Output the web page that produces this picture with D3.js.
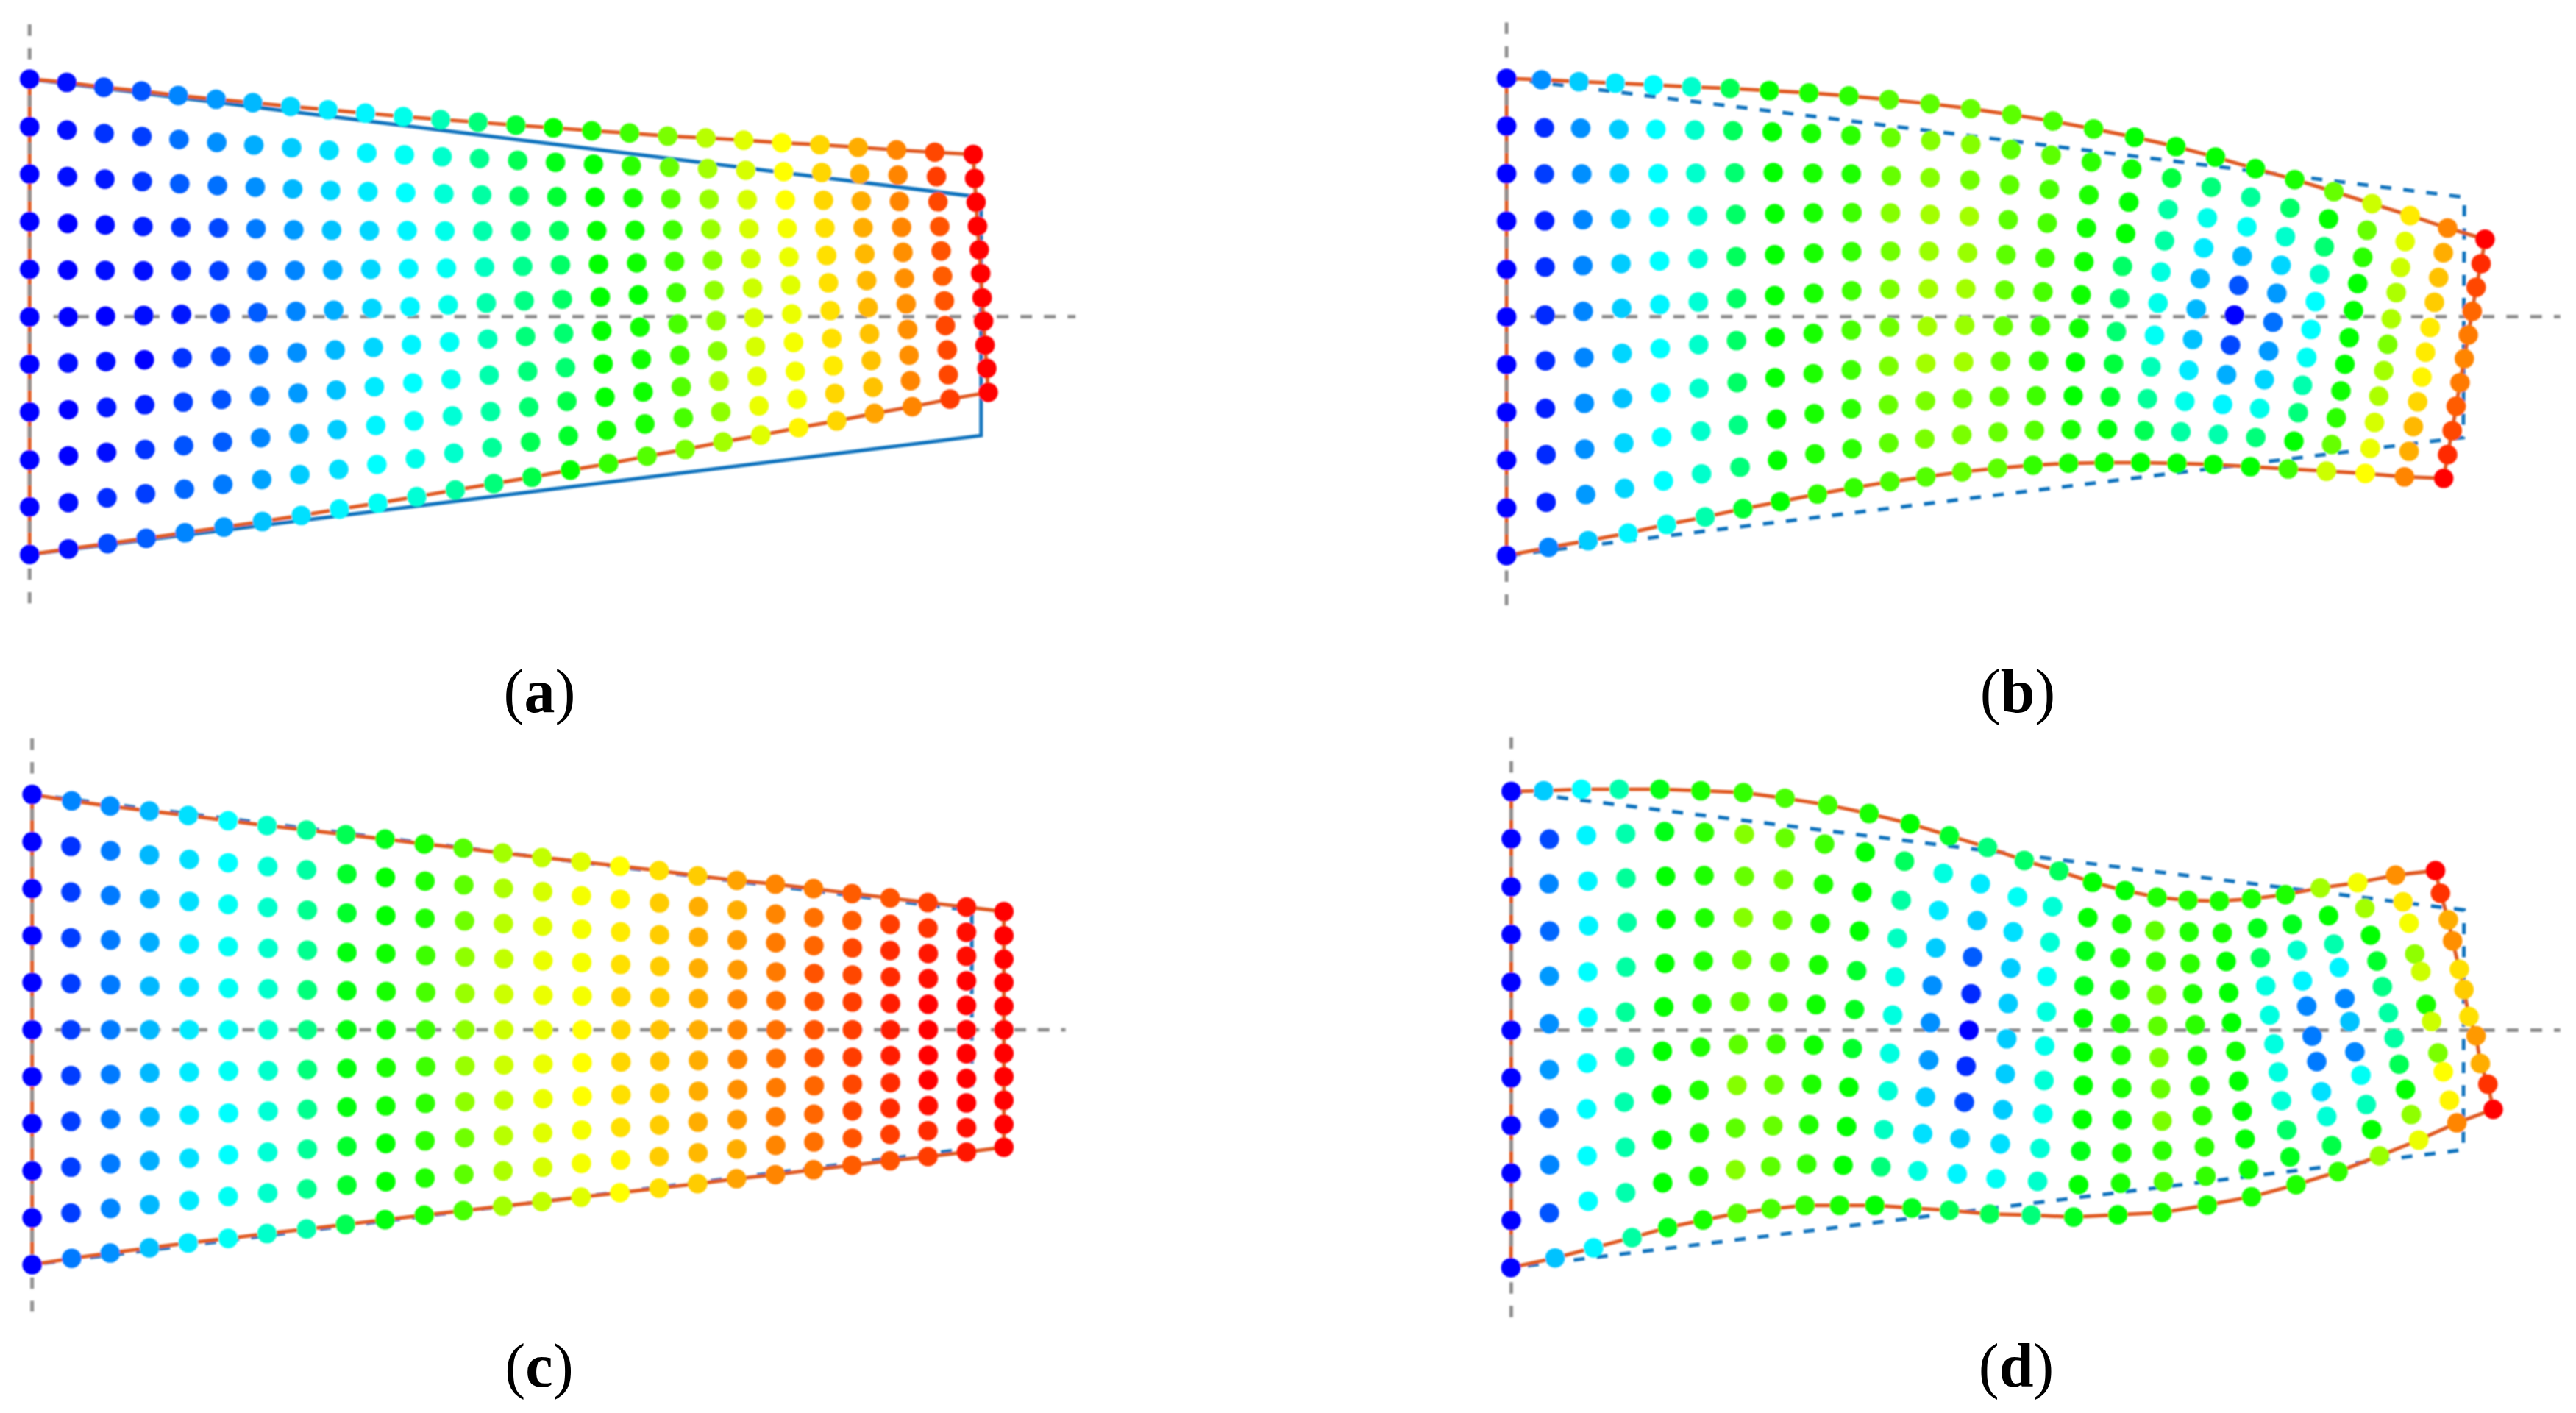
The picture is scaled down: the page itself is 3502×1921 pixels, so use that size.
<!DOCTYPE html>
<html><head><meta charset="utf-8">
<script src="https://cdnjs.cloudflare.com/ajax/libs/d3/7.8.5/d3.min.js"></script>
<style>html,body{margin:0;padding:0;background:#fff}svg{display:block}</style></head>
<body><svg id="chart" width="3502" height="1921"></svg>
<script>
// Values. Each array is [column][row]; x and y are in crop units (0-1568),
// v is the field value (0 = lowest/blue, 100 = highest/red).
const aLeftX=[[83,83,83,83,83,83,83,83,83,83,83],[187,188,189,190,190,191,191,192,192,192,192],[291,292,294,295,295,296,297,299,299,300,302],[397,398,399,401,402,403,405,406,407,408,410],[500,502,504,507,508,509,511,514,515,517,519],[606,608,610,613,614,617,619,621,624,625,628],[709,712,716,718,721,723,726,729,731,734,736],[815,818,821,824,827,830,833,836,839,841,845],[920,923,927,930,933,936,940,943,946,950,952],[1025,1029,1032,1036,1040,1043,1047,1050,1054,1057,1060],[1131,1134,1138,1142,1146,1150,1154,1158,1161,1165,1169],[1236,1240,1245,1248,1252,1257,1261,1265,1269,1273,1277],[1341,1345,1351,1354,1359,1364,1368,1372,1376,1380,1385],[1447,1452,1456,1461,1466,1470,1474,1480,1483,1488,1492],[1552,1558,1562,1568,1572,1577,1581,1586,1590,1594,1600]];
const aLeftY=[[93,220,346,473,600,727,853,980,1108,1233,1360],[102,229,353,478,602,727,850,974,1097,1222,1345],[115,238,360,482,603,725,846,968,1088,1209,1331],[125,246,366,486,604,723,841,961,1080,1198,1317],[137,254,372,488,604,720,836,954,1070,1186,1302],[147,262,377,490,604,718,832,947,1060,1173,1287],[156,269,381,492,604,715,828,938,1049,1160,1272],[166,276,386,495,603,712,822,930,1038,1147,1256],[175,283,390,496,602,709,815,922,1027,1133,1239],[184,290,393,497,600,704,808,913,1016,1120,1223],[193,295,396,497,598,700,801,903,1004,1105,1206],[201,300,399,498,597,695,794,893,991,1090,1188],[208,305,402,498,594,690,786,882,979,1075,1171],[216,310,405,498,592,684,779,872,967,1060,1154],[223,315,407,497,588,680,771,862,952,1044,1135]];
const aLeftV=[[0,0,0,0,0,0,0,0,0,0,0],[1,1,1,0,0,0,1,0,0,1,1],[7,5,2,1,1,0,1,2,1,4,7],[8,6,5,3,1,1,0,3,5,6,9],[13,11,9,5,4,2,5,6,8,10,13],[15,14,11,7,6,6,7,8,9,12,15],[18,17,14,12,10,9,11,12,13,16,19],[21,20,18,15,13,13,14,15,17,20,22],[23,22,21,19,17,17,18,19,20,22,24],[24,24,23,21,21,21,21,23,24,25,26],[27,26,25,24,24,24,24,25,26,27,29],[32,30,29,27,26,27,26,27,29,30,34],[38,36,34,33,31,33,32,33,34,35,38],[45,42,40,38,36,37,38,38,39,42,43],[50,48,45,41,40,40,39,39,43,46,50]];
const aRightX=[[133,138,142,147,152,157,161,165,170,175,180],[239,244,249,254,259,264,268,272,277,282,288],[346,351,355,360,365,370,375,380,384,390,395],[453,458,462,467,472,476,482,486,490,495,501],[559,565,569,574,579,584,588,592,597,602,607],[666,671,676,681,686,691,694,699,704,709,713],[773,778,783,787,792,797,802,806,810,815,820],[880,885,889,894,899,904,908,912,917,922,926],[988,992,996,1002,1006,1010,1015,1019,1023,1027,1032],[1095,1100,1104,1109,1113,1117,1122,1125,1130,1133,1138],[1203,1207,1211,1215,1220,1224,1228,1232,1236,1241,1245]];
const aRightY=[[231,320,408,497,586,674,764,852,941,1029,1118],[237,324,410,496,583,668,754,840,927,1012,1098],[245,328,412,495,579,662,746,829,913,996,1080],[250,332,413,493,576,656,737,818,898,980,1060],[256,336,414,492,572,650,729,806,885,964,1042],[263,340,415,491,567,642,719,795,872,946,1022],[268,342,416,490,563,636,710,784,857,931,1004],[275,346,418,489,559,630,702,772,843,914,984],[282,349,419,488,555,624,692,760,829,897,966],[288,353,420,486,551,618,684,750,815,881,946],[294,358,421,485,548,611,676,738,802,864,928]];
const aRightV=[[52,50,50,50,50,50,50,50,50,51,55],[56,54,52,51,51,50,51,51,51,52,58],[62,60,58,56,56,56,57,56,58,57,62],[68,66,65,65,63,64,64,63,67,64,66],[72,71,71,71,70,70,71,71,72,73,72],[75,75,75,74,73,72,73,74,74,74,76],[79,79,79,78,78,78,78,78,77,79,79],[83,83,83,83,82,82,82,81,81,81,84],[87,87,87,87,86,86,86,86,86,87,87],[93,94,93,92,92,91,92,93,93,93,94],[100,100,100,100,100,100,100,100,100,100,100]];

const bLeftX=[[58,58,58,58,58,58,58,58,58,58,58],[156,164,164,165,166,166,167,167,169,169,176],[261,266,269,272,272,273,275,276,277,280,287],[363,373,375,378,379,381,382,383,387,389,399],[470,477,483,486,487,488,489,490,493,498,507],[577,586,589,594,595,596,597,598,603,605,615],[685,693,698,701,702,703,703,705,708,713,721],[795,803,806,810,810,810,811,811,815,818,826],[906,913,917,918,919,919,918,918,921,923,930],[1018,1024,1025,1027,1026,1026,1025,1025,1025,1027,1032],[1131,1136,1137,1135,1135,1133,1132,1130,1129,1130,1133],[1246,1248,1246,1246,1243,1241,1238,1234,1233,1231,1234],[1360,1360,1358,1356,1351,1346,1343,1340,1337,1335,1335],[1475,1473,1469,1465,1459,1455,1451,1444,1440,1437,1435]];
const bLeftY=[[91,218,345,472,600,727,854,981,1109,1236,1363],[95,223,346,471,594,722,844,971,1094,1221,1341],[100,224,346,468,590,712,835,957,1079,1200,1323],[104,227,345,466,585,704,824,944,1063,1184,1303],[109,227,345,461,578,694,811,929,1047,1164,1280],[114,229,344,458,572,687,801,917,1031,1145,1260],[118,231,343,454,566,678,790,902,1015,1127,1238],[124,234,342,452,561,670,781,889,999,1109,1219],[130,238,344,450,557,664,771,878,985,1092,1199],[138,243,346,449,553,657,762,868,972,1078,1182],[148,249,351,450,552,653,754,858,961,1063,1166],[159,257,356,454,552,652,752,851,951,1052,1153],[172,267,362,459,556,652,749,847,945,1041,1140],[188,281,375,468,561,655,751,845,939,1034,1130]];
const bLeftV=[[0,0,0,0,0,0,0,0,0,0,0],[14,4,6,3,4,4,4,3,4,3,13],[20,14,14,13,13,13,13,14,14,15,20],[23,20,20,20,20,20,21,19,21,21,24],[25,25,25,25,25,24,25,25,25,25,27],[30,30,30,29,29,29,30,30,30,30,33],[42,41,39,40,41,40,40,40,37,38,45],[50,50,50,50,50,50,50,50,50,50,50],[52,52,52,52,52,52,52,53,52,53,54],[54,54,53,56,55,56,57,56,54,54,55],[58,60,60,63,61,62,61,62,60,59,57],[59,63,63,66,65,66,66,66,62,62,58],[60,63,61,66,65,66,65,66,61,62,60],[59,59,59,59,59,60,60,60,59,60,59]];
const bRightX=[[105,100,95,89,83,77,70,65,58,53,49],[219,213,206,199,192,184,178,168,162,156,149],[334,326,318,309,300,292,283,275,266,258,249],[450,438,428,418,408,400,390,380,370,361,351],[561,549,538,528,518,507,497,486,475,464,453],[673,660,649,636,626,614,603,592,581,569,555],[783,770,757,745,733,722,710,698,685,674,659],[893,878,866,853,841,829,817,805,793,781,765],[1000,986,974,960,948,936,924,913,900,887,872],[1107,1093,1080,1068,1054,1044,1033,1019,1007,995,981],[1212,1200,1187,1175,1163,1150,1140,1128,1116,1104,1091],[1317,1306,1292,1281,1270,1259,1247,1236,1225,1212,1201]];
const bRightY=[[205,296,387,477,570,660,751,844,937,1029,1122],[226,314,402,490,580,668,757,848,937,1027,1117],[248,333,421,505,592,678,766,852,940,1026,1115],[273,357,440,524,607,690,776,860,945,1030,1115],[301,381,463,543,625,706,787,869,952,1033,1117],[332,408,487,565,643,722,802,881,960,1040,1120],[361,437,513,589,664,741,818,894,971,1048,1126],[393,466,540,613,686,760,835,909,982,1058,1132],[425,496,568,638,710,782,853,924,996,1067,1138],[457,526,595,662,732,800,870,938,1008,1077,1144],[490,556,622,688,755,821,887,953,1019,1085,1153],[520,585,648,712,775,838,902,965,1030,1094,1157]];
const bRightV=[[57,59,57,57,56,57,56,55,56,58,55],[54,54,53,51,51,51,51,50,50,52,52],[50,51,50,50,40,39,39,44,46,49,51],[50,44,34,34,28,27,26,32,35,42,50],[50,38,27,23,18,18,19,23,27,34,50],[50,35,26,18,8,0,7,17,24,33,50],[52,40,30,21,15,11,15,21,27,38,50],[60,50,39,30,25,25,26,33,38,50,56],[70,60,54,50,50,50,50,51,54,60,70],[77,72,70,67,67,62,66,67,71,73,75],[87,83,81,80,77,77,76,79,82,83,87],[100,96,93,90,88,87,88,91,93,96,100]];

const cLeftX=[[90,90,90,90,90,90,90,90,90,90,90],[201,199,199,199,199,199,199,199,199,199,201],[309,310,310,310,310,310,310,310,310,310,309],[419,419,420,420,420,420,420,420,420,420,419],[528,531,531,531,531,531,531,531,531,531,528],[640,640,640,640,641,641,641,641,641,640,640],[749,751,751,752,752,752,752,752,751,751,749],[860,860,862,862,862,862,862,862,862,861,860],[970,973,973,973,973,973,973,973,973,973,969],[1080,1081,1082,1082,1083,1083,1083,1082,1082,1082,1080],[1190,1192,1192,1194,1194,1194,1194,1193,1192,1192,1190],[1299,1301,1303,1304,1304,1304,1304,1304,1303,1301,1299],[1410,1412,1412,1413,1413,1413,1413,1413,1412,1411,1410],[1520,1522,1522,1523,1523,1523,1523,1523,1522,1522,1520]];
const cLeftY=[[157,283,408,533,658,784,909,1034,1160,1285,1410],[174,295,417,539,661,784,906,1028,1150,1272,1393],[188,307,426,545,664,784,903,1022,1141,1260,1379],[201,318,435,551,668,784,899,1016,1133,1250,1365],[213,330,442,556,670,784,897,1011,1126,1239,1352],[227,339,450,562,673,784,894,1006,1117,1228,1340],[240,349,458,567,675,784,893,1001,1110,1219,1327],[252,358,465,572,678,784,890,996,1102,1208,1315],[264,369,473,578,680,784,887,990,1095,1198,1303],[276,378,480,581,682,784,885,987,1087,1189,1290],[289,388,487,586,684,784,882,980,1080,1179,1278],[300,398,494,590,687,784,880,976,1072,1169,1266],[313,407,501,595,689,784,878,972,1066,1160,1254],[325,416,508,600,692,784,875,968,1059,1150,1242]];
const cLeftV=[[0,0,0,0,0,0,0,0,0,0,0],[13,5,6,6,6,6,6,6,6,6,12],[14,12,12,12,12,12,12,12,12,13,14],[18,18,17,17,18,18,18,18,17,18,19],[22,22,22,23,22,23,23,23,22,23,23],[25,25,26,26,26,26,26,25,25,26,26],[30,29,30,30,30,30,30,29,29,30,30],[35,34,36,36,38,37,38,36,35,36,33],[42,46,46,49,49,49,49,49,46,46,42],[48,50,50,51,52,51,52,51,50,50,49],[52,53,53,56,57,56,56,54,54,53,52],[58,59,61,64,65,64,65,64,61,59,57],[66,67,68,69,70,70,70,69,68,67,66],[69,71,72,73,73,73,73,73,72,71,69]];
const cRightX=[[103,104,105,105,106,106,106,106,105,104,103],[212,213,214,214,215,215,215,215,214,214,212],[322,323,323,324,324,324,324,324,323,322,322],[430,432,432,432,432,432,432,432,431,431,430],[540,541,541,542,542,542,542,542,541,540,539],[648,649,649,650,650,650,650,650,649,649,648],[755,756,756,757,757,757,757,757,756,756,755],[863,863,864,864,864,864,864,864,864,864,863],[970,970,970,971,971,971,971,971,970,970,970],[1076,1076,1077,1077,1077,1077,1077,1077,1077,1076,1076],[1184,1184,1184,1184,1184,1184,1184,1184,1184,1184,1184],[1289,1289,1289,1289,1289,1289,1289,1289,1289,1289,1289]];
const cRightY=[[336,427,516,605,694,784,872,961,1051,1140,1230],[348,436,523,610,696,784,870,957,1044,1131,1218],[360,446,531,615,698,784,868,953,1038,1122,1206],[374,456,537,620,701,784,866,948,1030,1112,1194],[386,465,545,624,703,784,863,943,1023,1102,1181],[396,476,552,630,706,784,860,938,1016,1092,1170],[408,485,560,634,708,784,858,933,1009,1083,1157],[421,493,566,638,710,784,857,929,1000,1073,1145],[433,503,573,643,714,784,853,925,993,1063,1133],[445,513,581,648,716,784,852,918,986,1053,1122],[457,524,588,654,719,784,848,914,979,1045,1110],[469,533,596,658,721,784,847,909,972,1036,1097]];
const cRightV=[[72,74,74,74,74,75,75,75,74,74,72],[75,76,77,78,79,79,79,78,78,76,75],[78,80,80,80,80,81,81,80,80,80,78],[80,83,83,83,83,83,83,83,83,82,80],[84,83,85,85,87,87,87,86,85,83,84],[87,87,88,88,89,89,89,88,88,87,87],[88,89,90,92,92,92,92,90,90,89,88],[91,91,93,93,94,94,94,93,93,92,91],[92,94,96,96,97,97,97,96,96,94,92],[94,95,98,99,100,100,100,100,99,96,94],[98,99,99,100,100,100,100,100,100,99,98],[100,100,100,100,100,100,100,100,100,100,100]];

const dLeftX=[[71,71,71,71,71,71,71,71,71,71,70],[162,178,177,179,178,178,178,177,179,178,194],[268,282,286,288,286,286,284,283,284,287,302],[374,392,393,396,393,392,390,388,391,392,410],[488,501,504,505,502,499,495,493,494,496,510],[603,613,612,613,610,606,602,598,599,597,609],[722,725,725,722,718,713,708,704,700,700,705],[839,839,835,832,824,820,814,808,805,799,800],[959,950,947,938,933,926,919,914,906,900,895],[1075,1064,1055,1048,1040,1034,1028,1018,1012,1002,992],[1190,1174,1165,1154,1148,1141,1133,1128,1116,1108,1091],[1300,1283,1270,1262,1252,1247,1242,1233,1225,1212,1195],[1407,1387,1378,1365,1361,1355,1347,1342,1330,1322,1300],[1510,1491,1479,1472,1465,1461,1457,1450,1443,1431,1413]];
const dLeftY=[[149,275,403,530,657,785,912,1039,1166,1292,1418],[147,276,395,521,641,768,890,1020,1144,1272,1392],[143,266,388,507,630,751,873,995,1120,1241,1365],[143,262,380,498,617,737,856,977,1097,1218,1338],[143,256,375,489,607,723,841,957,1077,1192,1311],[147,258,373,486,601,715,830,945,1059,1174,1291],[152,263,375,485,598,709,823,932,1046,1157,1273],[167,273,384,492,604,711,822,930,1040,1148,1261],[185,289,396,501,611,717,825,929,1037,1142,1252],[208,311,417,521,627,730,834,937,1042,1145,1252],[235,335,439,540,643,745,847,947,1050,1149,1252],[267,367,466,566,666,765,865,963,1061,1160,1259],[298,395,493,590,688,785,881,977,1074,1168,1265],[333,430,523,620,714,808,902,997,1088,1181,1275]];
const dLeftV=[[0,0,0,0,0,0,0,0,0,0,0],[20,7,13,10,15,14,15,11,13,8,19],[25,24,24,24,25,25,25,25,25,25,24],[33,33,35,34,34,35,34,33,33,33,34],[48,48,50,50,50,50,50,50,50,50,48],[52,54,53,53,53,53,53,53,53,53,52],[55,63,60,63,60,59,59,63,59,63,58],[57,60,61,60,57,56,56,60,60,59,57],[56,56,53,53,52,51,51,53,53,55,55],[52,50,50,50,46,47,46,50,50,50,52],[50,41,34,31,28,28,28,29,31,38,50],[46,28,23,20,14,14,15,20,22,28,47],[38,23,20,9,4,0,4,7,20,24,42],[40,26,22,20,20,20,20,20,22,26,42]];
const dRightX=[[122,104,97,88,87,82,80,77,69,62,44],[216,203,196,192,190,190,190,187,183,177,163],[307,298,294,293,295,296,298,299,298,295,287],[397,391,394,396,399,403,407,411,412,415,411],[484,487,490,497,504,510,517,524,530,534,538],[572,580,591,598,606,618,626,636,644,654,662],[662,679,687,702,713,725,737,746,761,770,787],[757,776,790,805,817,832,845,858,873,887,905],[855,878,893,908,924,938,952,969,984,999,1021],[960,980,996,1014,1029,1046,1062,1076,1094,1110,1131],[1066,1087,1104,1120,1137,1152,1167,1185,1200,1217,1238],[1178,1192,1214,1226,1245,1258,1272,1292,1304,1325,1340]];
const dRightY=[[361,456,551,642,736,827,919,1008,1100,1188,1278],[391,485,574,667,754,844,932,1023,1107,1197,1283],[413,502,592,678,767,852,939,1024,1112,1193,1277],[431,520,602,691,774,858,941,1027,1106,1189,1271],[439,523,608,688,771,853,933,1013,1096,1174,1251],[441,526,602,685,765,841,921,1001,1075,1156,1229],[435,513,592,667,745,822,897,973,1051,1123,1197],[424,503,572,654,721,801,869,949,1015,1093,1162],[406,480,556,618,701,762,843,905,983,1050,1120],[392,460,532,601,669,739,806,876,943,1010,1078],[372,443,500,582,629,717,762,846,896,972,1032],[360,420,491,547,623,677,749,800,874,929,996]];
const dRightV=[[41,29,29,26,28,27,29,27,29,30,38],[50,50,48,48,50,50,50,50,48,50,47],[50,52,52,52,53,53,52,51,52,52,50],[53,59,55,61,59,62,60,62,54,57,52],[53,53,54,53,54,53,53,54,54,55,52],[52,52,50,50,50,51,50,50,50,51,52],[52,48,41,28,28,28,28,29,40,47,53],[53,47,30,24,13,12,12,22,29,43,54],[66,50,33,24,13,19,13,26,32,50,65],[74,66,50,46,37,34,34,42,50,64,73],[86,77,74,64,70,52,70,62,75,76,87],[100,95,83,86,78,80,78,85,83,95,100]];

const panelLetters=["a","b","c","d"];

// Layout (separate from the values)
const CROP=1568, CW=760, CH=800;
const panels=[
 {l:"a",lx:0,rx:740,y:60,left:[aLeftX,aLeftY,aLeftV],right:[aRightX,aRightY,aRightV],
  sL:[[83,93],[83,1360]],sR:[[1225,408],[1225,1043]],dashedShape:false,vx:83,vy:[-53,1490],vP:32.17,hy:726,hx:[150,1490],hP:32.06,label:[733.5,968]},
 {l:"b",lx:2020,rx:2740,y:60,left:[bLeftX,bLeftY,bLeftV],right:[bRightX,bRightY,bRightV],
  sL:[[58,91],[58,1363]],sR:[[1259,408],[1256,1048]],dashedShape:true,vx:58,vy:[-58,1495],vP:32.4,hy:726,hx:[125,1528],hP:32.36,label:[2743,968]},
 {l:"c",lx:0,rx:740,y:1000,left:[cLeftX,cLeftY,cLeftV],right:[cRightX,cRightY,cRightV],
  sL:[[90,157],[90,1410]],sR:[[1199,466],[1199,1100]],dashedShape:true,vx:90,vy:[8,1535],vP:31.85,hy:784,hx:[155,1462],hP:31.8,label:[733,1885]},
 {l:"d",lx:2020,rx:2740,y:1000,left:[dLeftX,dLeftY,dLeftV],right:[dRightX,dRightY,dRightV],
  sL:[[71,149],[71,1418]],sR:[[1258,465],[1256,1104]],dashedShape:true,vx:71,vy:[5,1550],vP:32.2,hy:785,hx:[135,1528],hP:32.25,label:[2741,1885]}
];
const hue=d3.scaleLinear().domain([0,100]).range([240,0]);
const color=v=>d3.hsl(hue(v),1,0.5).formatHex();
const svg=d3.select("#chart");
const defs=svg.append("defs");
defs.append("filter").attr("id","soft").attr("x","-2%").attr("y","-2%").attr("width","104%").attr("height","104%")
  .append("feGaussianBlur").attr("stdDeviation",0.9);
const line=d3.line();
panels.forEach(p=>{
  const xL=d3.scaleLinear().domain([0,CROP]).range([p.lx,p.lx+CW]);
  const xR=d3.scaleLinear().domain([0,CROP]).range([p.rx,p.rx+CW]);
  const y=d3.scaleLinear().domain([0,CROP]).range([p.y,p.y+CH]);
  const cols=[];
  const add=(arr,sx)=>arr[0].forEach((col,c)=>{
    cols.push(col.map((xv,r)=>({x:sx(xv),y:y(arr[1][c][r]),v:arr[2][c][r]})));
  });
  add(p.left,xL); add(p.right,xR);
  const g=svg.append("g").attr("filter","url(#soft)");
  // reference outline
  const shape=[[xL(p.sL[0][0]),y(p.sL[0][1])],[xR(p.sR[0][0]),y(p.sR[0][1])],[xR(p.sR[1][0]),y(p.sR[1][1])],[xL(p.sL[1][0]),y(p.sL[1][1])]];
  g.append("path").attr("d",line(shape)).attr("fill","none").attr("stroke","#0f72bd").attr("stroke-width",5)
    .attr("stroke-dasharray",p.dashedShape?"15 16.5":null).attr("stroke-linejoin","miter");
  // deformed outline
  const n=cols.length, m=cols[0].length;
  const ring=[...cols.map(c=>c[0]),...cols[n-1].slice(1),...cols.map(c=>c[m-1]).reverse().slice(1),...cols[0].slice(1,m-1).reverse()];
  g.append("path").attr("d",line(ring.map(d=>[d.x,d.y]))+"Z").attr("fill","none").attr("stroke","#e05a22").attr("stroke-width",5);
  // symmetry axes
  g.append("line").attr("x1",xL(p.vx)).attr("x2",xL(p.vx)).attr("y1",y(p.vy[0])).attr("y2",y(p.vy[1]))
    .attr("stroke","#8f8f8f").attr("stroke-width",5).attr("stroke-dasharray",`15.5 ${p.vP-15.5}`);
  g.append("line").attr("x1",xL(p.hx[0])).attr("x2",xR(p.hx[1])).attr("y1",y(p.hy)).attr("y2",y(p.hy))
    .attr("stroke","#8f8f8f").attr("stroke-width",5).attr("stroke-dasharray",`16 ${p.hP-16}`);
  // nodes
  g.selectAll("circle.n").data(cols.flat()).join("circle").attr("class","n")
    .attr("cx",d=>d.x).attr("cy",d=>d.y).attr("r",13.3).attr("fill",d=>color(d.v));
  // label
  const t=svg.append("text").attr("x",p.label[0]).attr("y",p.label[1]).attr("text-anchor","middle")
    .attr("font-family","'Liberation Serif',serif").attr("font-size",84).attr("fill","#000");
  t.append("tspan").text("(");
  t.append("tspan").attr("font-weight","bold").text(panelLetters[panels.indexOf(p)]);
  t.append("tspan").text(")");
});
</script></body></html>
